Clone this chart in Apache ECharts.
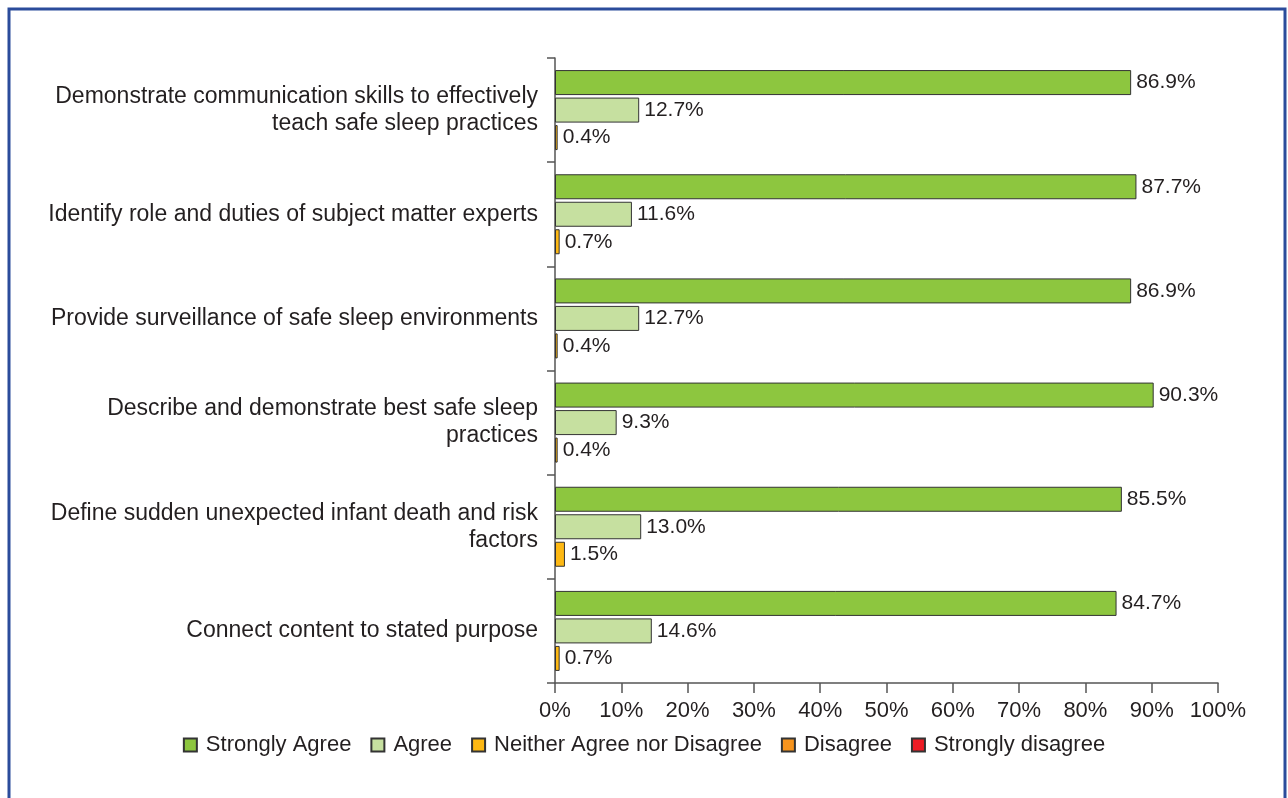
<!DOCTYPE html>
<html>
<head>
<meta charset="utf-8">
<script src="https://cdn.jsdelivr.net/npm/echarts@6/dist/echarts.min.js"></script>
<style>
  html, body { margin: 0; padding: 0; background: #fff; }
  #chart { width: 1288px; height: 798px; }
</style>
</head>
<body>
<div id="chart"></div>
<script>
const categories = [
    'Demonstrate communication skills to effectively\nteach safe sleep practices',
    'Identify role and duties of subject matter experts',
    'Provide surveillance of safe sleep environments',
    'Describe and demonstrate best safe sleep\npractices',
    'Define sudden unexpected infant death and risk\nfactors',
    'Connect content to stated purpose'
];
const stronglyAgree = [86.9, 87.7, 86.9, 90.3, 85.5, 84.7];
const agree = [12.7, 11.6, 12.7, 9.3, 13.0, 14.6];
const neither = [0.4, 0.7, 0.4, 0.4, 1.5, 0.7];
const disagree = [];
const stronglyDisagree = [];
const xTicks = [0, 100, 10];

const textColor = '#231f20';
const font = 'Liberation Sans, Arial, sans-serif';

const chart = echarts.init(document.getElementById('chart'), null, {renderer: 'canvas'});

function barSeries(name, data, color, axis) {
    return {
        name: name,
        type: 'bar',
        yAxisIndex: axis,
        data: data,
        barWidth: 25,
        barGap: '10%',
        itemStyle: {
            color: color,
            borderColor: '#333',
            borderWidth: 1
        },
        label: {
            show: true,
            position: 'right',
            distance: 5,
            color: textColor,
            fontFamily: font,
            fontSize: 21,
            formatter: p => p.value.toFixed(1) + '%'
        }
    };
}

const option = {
    backgroundColor: '#fff',
    animation: false,
    graphic: [{
        type: 'rect',
        shape: {x: 9, y: 9, width: 1276, height: 820},
        style: {fill: null, stroke: '#2b4c9b', lineWidth: 3}
    }],
    grid: {left: 555, right: 70, top: 58, bottom: 115},
    legend: {
        bottom: 37,
        left: 'center',
        itemWidth: 13,
        itemHeight: 13,
        itemGap: 19,
        icon: 'rect',
        textStyle: {color: textColor, fontFamily: font, fontSize: 22, padding: [0, 0, 0, 4]},
        data: ['Strongly Agree', 'Agree', 'Neither Agree nor Disagree', 'Disagree', 'Strongly disagree']
    },
    xAxis: {
        type: 'value',
        min: xTicks[0],
        max: xTicks[1],
        interval: xTicks[2],
        splitLine: {show: false},
        axisLine: {show: true, lineStyle: {color: '#555', width: 1.5}},
        axisTick: {show: true, length: 10, lineStyle: {color: '#555', width: 1.5}},
        axisLabel: {
            color: textColor,
            fontFamily: font,
            fontSize: 22,
            margin: 17,
            formatter: '{value}%'
        }
    },
    yAxis: [{
        type: 'category',
        inverse: true,
        data: categories,
        axisLine: {show: true, lineStyle: {color: '#555', width: 1.5}},
        axisTick: {show: true, length: 8, lineStyle: {color: '#555', width: 1.5}},
        axisLabel: {
            color: textColor,
            fontFamily: font,
            fontSize: 23,
            lineHeight: 27,
            margin: 17,
            align: 'right'
        }
    }, {
        type: 'category',
        inverse: true,
        data: categories,
        show: false
    }],
    series: [
        barSeries('Strongly Agree', stronglyAgree, '#8dc63f', 0),
        barSeries('Agree', agree, '#c6e0a0', 0),
        barSeries('Neither Agree nor Disagree', neither, '#fdb813', 0),
        barSeries('Disagree', disagree, '#f7941d', 1),
        barSeries('Strongly disagree', stronglyDisagree, '#ed1c24', 1)
    ]
};

chart.setOption(option);
</script>
</body>
</html>
